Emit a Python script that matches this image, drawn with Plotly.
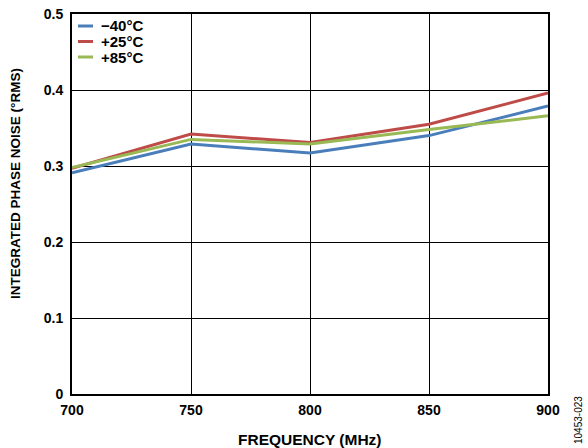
import plotly.graph_objects as go

freq_mhz = [700, 750, 800, 850, 900]
series_names = ["\u221240\u00b0C", "+25\u00b0C", "+85\u00b0C"]
noise_m40 = [0.291, 0.329, 0.317, 0.340, 0.379]
noise_p25 = [0.297, 0.342, 0.331, 0.355, 0.396]
noise_p85 = [0.298, 0.335, 0.329, 0.348, 0.366]
colors = ["#4a7ebb", "#be4b48", "#98b954"]
x_ticks = [700, 750, 800, 850, 900]
y_ticks = [0, 0.1, 0.2, 0.3, 0.4, 0.5]
y_tick_text = ["0", "0.1", "0.2", "0.3", "0.4", "0.5"]

FONT = "Liberation Sans, Arial, sans-serif"
L, R, T, B = 72, 40, 14, 54
W, H = 588, 448
PW, PH = W - L - R, H - T - B

fig = go.Figure()
for name, vals, col in zip(series_names, [noise_m40, noise_p25, noise_p85], colors):
    fig.add_trace(go.Scatter(x=freq_mhz, y=vals, mode="lines", name=name,
                             line=dict(color=col, width=3), showlegend=False,
                             hoverinfo="skip"))

# manual compact legend
legend_y_px = [26, 41.5, 57]
for i, (name, col) in enumerate(zip(series_names, colors)):
    ypos = 1 - (legend_y_px[i] - T) / PH
    fig.add_shape(type="line", xref="paper", yref="paper",
                  x0=(78 - L) / PW, x1=(93 - L) / PW, y0=ypos, y1=ypos,
                  line=dict(color=col, width=3))
    fig.add_annotation(xref="paper", yref="paper", x=(99 - L) / PW, y=ypos,
                       text="<b>%s</b>" % name, showarrow=False,
                       xanchor="left", yanchor="middle",
                       font=dict(family=FONT, size=15, color="black"))

# axis titles
fig.add_annotation(xref="paper", yref="paper", x=(310 - L) / PW, y=-(439 - (T + PH)) / PH,
                   text="<b>FREQUENCY (MHz)</b>", showarrow=False,
                   xanchor="center", yanchor="middle",
                   font=dict(family=FONT, size=15.5, color="black"))
fig.add_annotation(xref="paper", yref="paper", x=(15 - L) / PW, y=1 - (184 - T) / PH,
                   text="<b>INTEGRATED PHASE NOISE (\u00b0RMS)</b>", showarrow=False,
                   textangle=-90, xanchor="center", yanchor="middle",
                   font=dict(family=FONT, size=13.5, color="black"))

fig.add_annotation(xref="paper", yref="paper", x=(578 - L) / PW, y=-(420 - (T + PH)) / PH,
                   text="10453-023", showarrow=False, textangle=-90,
                   xanchor="center", yanchor="middle",
                   font=dict(family=FONT, size=10, color="black"))

fig.update_layout(
    width=W, height=H,
    margin=dict(l=L, r=R, t=T, b=B, autoexpand=False),
    paper_bgcolor="white", plot_bgcolor="white",
    font=dict(family=FONT, color="black"),
    hovermode=False,
    xaxis=dict(range=[700, 900], tickvals=x_ticks,
               ticktext=["<b>%d</b>" % v for v in x_ticks],
               tickfont=dict(family=FONT, size=14, color="black"),
               ticks="", showgrid=True, gridcolor="black", gridwidth=1,
               showline=True, linecolor="black", linewidth=2, mirror=True,
               zeroline=False, ticklabelstandoff=2),
    yaxis=dict(range=[0, 0.5], tickvals=y_ticks,
               ticktext=["<b>%s</b>" % t for t in y_tick_text],
               tickfont=dict(family=FONT, size=14, color="black"),
               ticks="", showgrid=True, gridcolor="black", gridwidth=1,
               showline=True, linecolor="black", linewidth=2, mirror=True,
               zeroline=False, ticklabelstandoff=4),
)

fig.write_html("out.html", config={"displayModeBar": False},
               post_script="document.body.style.margin='0px';")
